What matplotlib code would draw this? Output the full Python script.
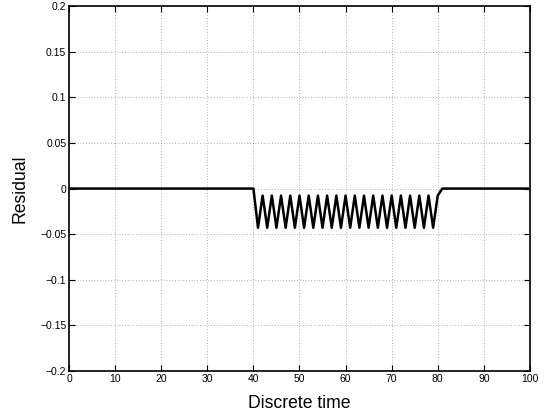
import numpy as np
import matplotlib.pyplot as plt

plt.rcParams['font.family'] = ['Liberation Sans', 'DejaVu Sans']

# residual sampled at each discrete time step 0..100
time = list(range(101))
residual = [
    0, 0, 0, 0, 0, 0, 0, 0, 0, 0,
    0, 0, 0, 0, 0, 0, 0, 0, 0, 0,
    0, 0, 0, 0, 0, 0, 0, 0, 0, 0,
    0, 0, 0, 0, 0, 0, 0, 0, 0, 0,
    0, -0.043, -0.0077, -0.043, -0.0077, -0.043, -0.0077, -0.043, -0.0077, -0.043,
    -0.0077, -0.043, -0.0077, -0.043, -0.0077, -0.043, -0.0077, -0.043, -0.0077, -0.043,
    -0.0077, -0.043, -0.0077, -0.043, -0.0077, -0.043, -0.0077, -0.043, -0.0077, -0.043,
    -0.0077, -0.043, -0.0077, -0.043, -0.0077, -0.043, -0.0077, -0.043, -0.0077, -0.043,
    -0.0077, 0, 0, 0, 0, 0, 0, 0, 0, 0,
    0, 0, 0, 0, 0, 0, 0, 0, 0, 0,
    0,
]

xticks = [0, 10, 20, 30, 40, 50, 60, 70, 80, 90, 100]
yticks = [-0.2, -0.15, -0.1, -0.05, 0, 0.05, 0.1, 0.15, 0.2]
ytick_labels = ['\u22120.2', '\u22120.15', '\u22120.1', '\u22120.05', '0',
                '0.05', '0.1', '0.15', '0.2']

fig = plt.figure(figsize=(5.48, 4.17), dpi=100)
ax = fig.add_axes([0.126, 0.1103, 0.841, 0.875])

ax.plot(time, residual, color='black', linewidth=1.8)

ax.set_xlim(0, 100)
ax.set_ylim(-0.2, 0.2)
ax.set_xticks(xticks)
ax.set_xticklabels([str(t) for t in xticks])
ax.set_yticks(yticks)
ax.set_yticklabels(ytick_labels)

ax.grid(True, color='black', linestyle=(0, (1, 3)), linewidth=0.5, alpha=0.6)
ax.tick_params(direction='in', top=True, right=True, length=4, width=0.8,
               labelsize=7.5, pad=2)
for s in ax.spines.values():
    s.set_linewidth(1.2)

ax.set_xlabel('Discrete time', fontsize=12.7, labelpad=8)
ax.set_ylabel('Residual', fontsize=12.7, labelpad=8)

fig.savefig('out.png', dpi=100)
